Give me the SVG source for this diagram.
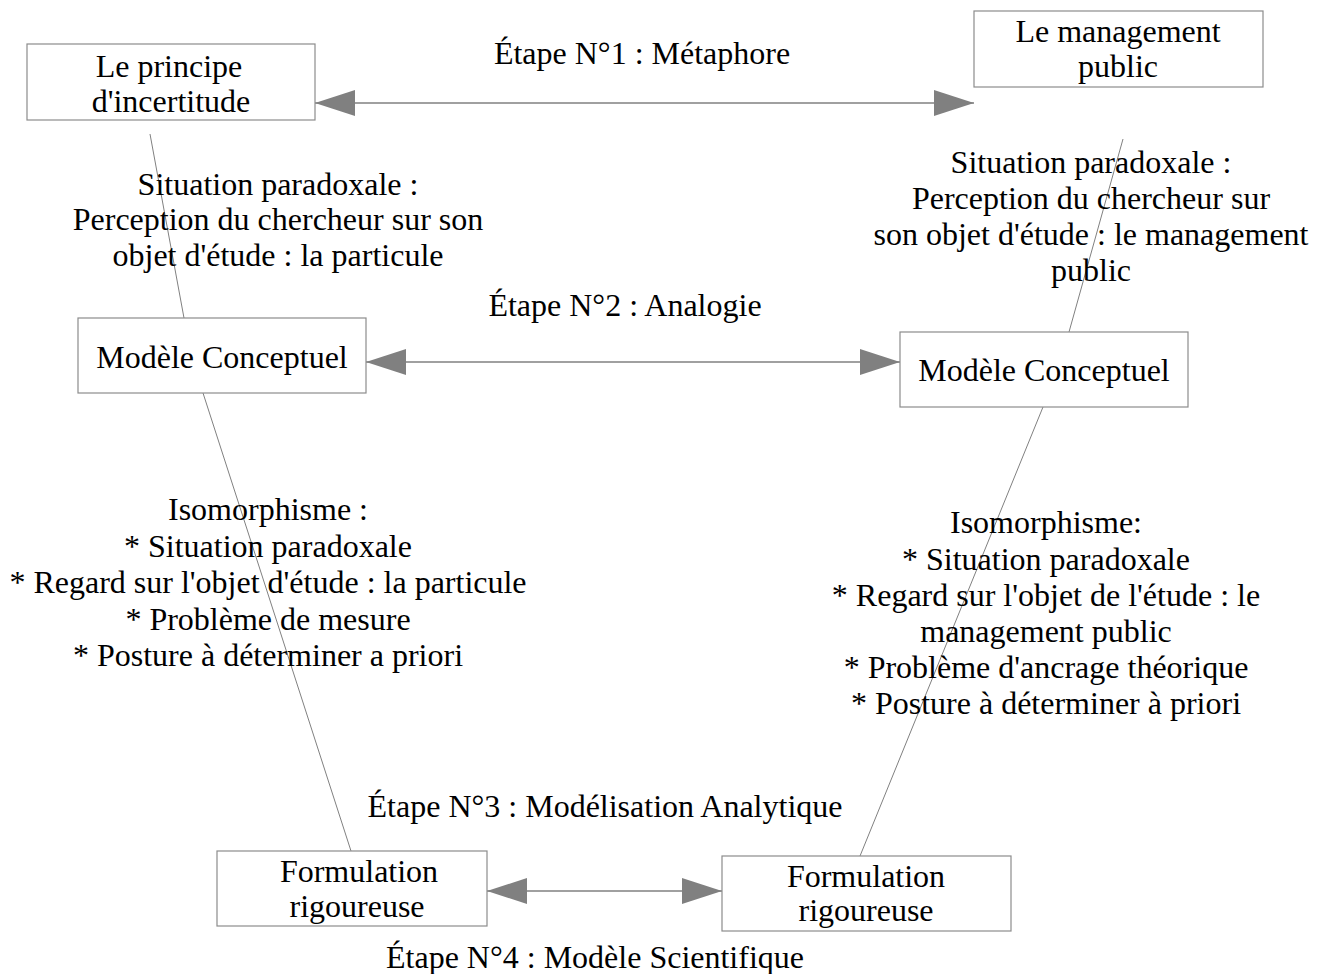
<svg xmlns="http://www.w3.org/2000/svg" width="1325" height="974" viewBox="0 0 1325 974">
<style>
.box{fill:#fff;stroke:#8c8c8c;stroke-width:1.2}
text{font-family:"Liberation Serif","Times New Roman",serif;font-size:32px;fill:#000;text-anchor:middle}
.ln{stroke:#808080;stroke-width:1;fill:none}
.ar{stroke:#808080;stroke-width:1.5;fill:none;marker-start:url(#ah);marker-end:url(#ah)}
</style>
<defs>
<marker id="ah" markerUnits="userSpaceOnUse" markerWidth="40" markerHeight="26" viewBox="0 0 40 26" refX="40" refY="13" orient="auto-start-reverse">
<path d="M0,0 L40,13 L0,26 z" fill="#808080"/>
</marker>
</defs>
<rect width="1325" height="974" fill="#fff"/>
<g id="connectors">
<line class="ln" x1="150" y1="134" x2="184" y2="318"/>
<line class="ln" x1="203" y1="393" x2="351" y2="851"/>
<line class="ln" x1="1123" y1="139" x2="1069" y2="332"/>
<line class="ln" x1="1043" y1="407" x2="860" y2="856"/>
<line class="ar" x1="315" y1="103" x2="974" y2="103"/>
<line class="ar" x1="366" y1="362" x2="900" y2="362"/>
<line class="ar" x1="487" y1="891" x2="722" y2="891"/>
</g>
<g id="n1"><rect class="box" x="27" y="44" width="288" height="76"/><text x="169" y="77">Le principe</text><text x="171" y="112">d'incertitude</text></g>
<g id="n2"><rect class="box" x="974" y="11" width="289" height="76"/><text x="1118" y="42">Le management</text><text x="1118" y="77">public</text></g>
<g id="n3"><rect class="box" x="78" y="318" width="288" height="75"/><text x="222" y="368">Modèle Conceptuel</text></g>
<g id="n4"><rect class="box" x="900" y="332" width="288" height="75"/><text x="1044" y="381">Modèle Conceptuel</text></g>
<g id="n5"><rect class="box" x="217" y="851" width="270" height="75"/><text x="359" y="882">Formulation</text><text x="357" y="917">rigoureuse</text></g>
<g id="n6"><rect class="box" x="722" y="856" width="289" height="75"/><text x="866" y="887">Formulation</text><text x="866" y="921">rigoureuse</text></g>
<g id="labels">
<text x="642" y="64">Étape N°1 : Métaphore</text>
<text x="278" y="195">Situation paradoxale :</text>
<text x="278" y="230">Perception du chercheur sur son</text>
<text x="278" y="266">objet d'étude : la particule</text>
<text x="1091" y="173">Situation paradoxale :</text>
<text x="1091" y="209">Perception du chercheur sur</text>
<text x="1091" y="245">son objet d'étude : le management</text>
<text x="1091" y="281">public</text>
<text x="625" y="316">Étape N°2 : Analogie</text>
<text x="268" y="520">Isomorphisme :</text>
<text x="268" y="557">* Situation paradoxale</text>
<text x="268" y="593">* Regard sur l'objet d'étude : la particule</text>
<text x="268" y="630">* Problème de mesure</text>
<text x="268" y="666">* Posture à déterminer a priori</text>
<text x="1046" y="533">Isomorphisme:</text>
<text x="1046" y="570">* Situation paradoxale</text>
<text x="1046" y="606">* Regard sur l'objet de l'étude : le</text>
<text x="1046" y="642">management public</text>
<text x="1046" y="678">* Problème d'ancrage théorique</text>
<text x="1046" y="714">* Posture à déterminer à priori</text>
<text x="605" y="817">Étape N°3 : Modélisation Analytique</text>
<text x="595" y="968">Étape N°4 : Modèle Scientifique</text>
</g>
</svg>
